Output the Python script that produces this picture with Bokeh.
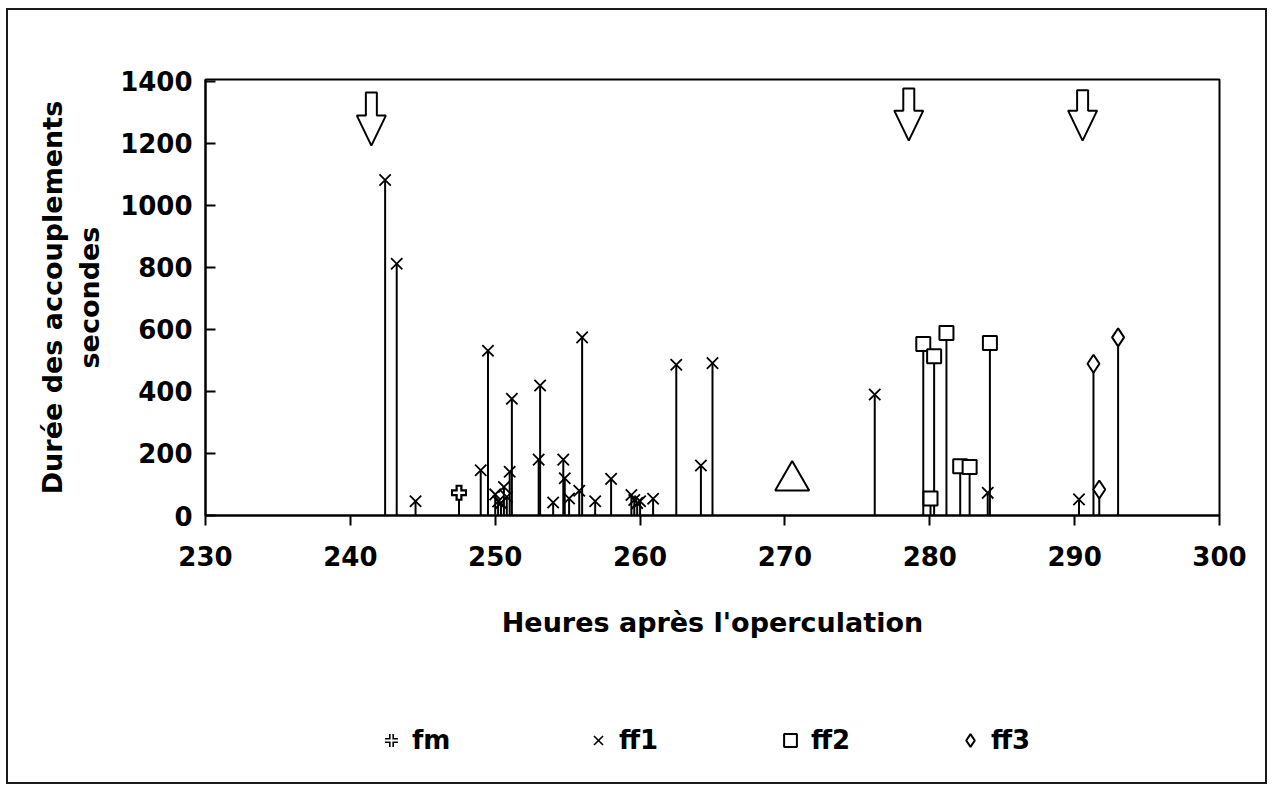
from bokeh.plotting import figure
from bokeh.models import Range1d, Legend, LegendItem, FixedTicker
from bokeh.layouts import column
from bokeh.embed import file_html
from bokeh.resources import INLINE

# ---- data (hours after operculation, duration in seconds) ----
fm_h = [247.5]
fm_v = [73]

ff1_h = [242.4, 243.2, 244.5, 249.0, 249.5, 250.0, 250.2, 250.4, 250.6, 250.8,
         251.0, 251.15, 253.0, 253.1, 254.0, 254.7, 254.8, 255.1, 255.8, 256.0,
         256.9, 258.0, 259.4, 259.6, 259.8, 260.0, 260.9, 262.5, 264.2, 265.0,
         276.2, 284.0, 290.3]
ff1_v = [1081, 811, 46, 146, 531, 68, 45, 40, 92, 60,
         141, 376, 180, 419, 42, 180, 120, 55, 80, 574,
         46, 118, 66, 50, 40, 46, 54, 486, 161, 491,
         390, 73, 52]

ff2_h = [279.55, 280.05, 280.3, 281.15, 282.1, 282.75, 284.15]
ff2_v = [553, 55, 513, 588, 159, 156, 556]

ff3_h = [291.3, 291.7, 293.0]
ff3_v = [489, 84, 574]

tri_h = [270.5]
tri_v = [112]

arrow_h = [241.45, 278.55, 290.55]
arrow_top = [1363, 1376, 1370]
arrow_tip = [1192, 1208, 1208]

x_ticks = [230, 240, 250, 260, 270, 280, 290, 300]
y_ticks = [0, 200, 400, 600, 800, 1000, 1200, 1400]

series_labels = ["fm", "ff1", "ff2", "ff3"]
x_title = "Heures après l'operculation"
y_title = "Durée des accouplements\nsecondes"

# ---- layout ----
W = 1257
H1, H2 = 640, 132
ML, MR, MT = 197, 46, 69
FH = 436
MB = H1 - MT - FH
X0, X1 = 230, 300
Y0, Y1 = 0, 1405
FONT = "DejaVu Sans"

p = figure(width=W, height=H1, x_range=Range1d(X0, X1), y_range=Range1d(Y0, Y1),
           output_backend="svg", toolbar_location=None,
           min_border_left=ML, min_border_right=MR, min_border_top=MT,
           min_border_bottom=MB)
p.xgrid.visible = False
p.ygrid.visible = False
p.outline_line_color = "black"
p.outline_line_width = 2
p.background_fill_color = "white"
p.border_fill_color = "white"

xa = p.xaxis[0]
xa.ticker = FixedTicker(ticks=x_ticks)
xa.axis_line_width = 2
xa.major_tick_line_width = 2
xa.major_tick_in = 0
xa.major_tick_out = 10
xa.minor_tick_line_color = None
xa.major_label_text_font = FONT
xa.major_label_text_font_style = "bold"
xa.major_label_text_font_size = "26px"
xa.major_label_text_color = "black"
xa.major_label_standoff = 20
xa.axis_label = x_title
xa.axis_label_text_font = FONT
xa.axis_label_text_font_style = "bold"
xa.axis_label_text_font_size = "27px"
xa.axis_label_text_color = "black"
xa.axis_label_standoff = 38

ya = p.yaxis[0]
ya.ticker = FixedTicker(ticks=y_ticks)
ya.axis_line_width = 2
ya.major_tick_line_width = 2
ya.major_tick_in = 10
ya.major_tick_out = 0
ya.minor_tick_line_color = None
ya.major_label_text_font = FONT
ya.major_label_text_font_style = "bold"
ya.major_label_text_font_size = "26px"
ya.major_label_text_color = "black"
ya.major_label_standoff = 13
ya.axis_label = y_title
ya.axis_label_text_font = FONT
ya.axis_label_text_font_style = "bold"
ya.axis_label_text_font_size = "27px"
ya.axis_label_text_color = "black"
ya.axis_label_standoff = 12

# ---- stems ----
for hs, vs in ((fm_h, fm_v), (ff1_h, ff1_v), (ff2_h, ff2_v), (ff3_h, ff3_v)):
    p.segment(x0=hs, y0=[0] * len(hs), x1=hs, y1=vs, line_color="black", line_width=2)

# ---- arrows (hollow block arrows) ----
fw = W - ML - MR
px_x = (X1 - X0) / fw
px_y = (Y1 - Y0) / FH
sw, hw, hl = 5.5, 14.5, 30
axs, ays = [], []
for ah, at, ap in zip(arrow_h, arrow_top, arrow_tip):
    hs_ = ap + hl * px_y
    axs.append([ah - sw * px_x, ah + sw * px_x, ah + sw * px_x, ah + hw * px_x, ah,
                ah - hw * px_x, ah - sw * px_x])
    ays.append([at, at, hs_, hs_, ap, hs_, hs_])
p.patches(axs, ays, fill_color="white", line_color="black", line_width=2)

# ---- triangle marker ----
p.scatter(tri_h, tri_v, marker="triangle", size=34, fill_color="white",
          line_color="black", line_width=2)

# ---- series markers ----
p.scatter(fm_h, fm_v, marker="cross", size=16, line_color="black", line_width=7)
p.scatter(fm_h, fm_v, marker="cross", size=12, line_color="white", line_width=2.5)
p.scatter(ff1_h, ff1_v, marker="x", size=16, line_color="black", line_width=1.8)
p.scatter(ff2_h, ff2_v, marker="square", size=14, fill_color="white",
          line_color="black", line_width=2)
p.scatter(ff3_h, ff3_v, marker="diamond", size=18, fill_color="white",
          line_color="black", line_width=2)

# ---- legend strip (separate figure below; its data lie outside its view) ----
q = figure(width=W, height=H2, x_range=Range1d(X0, X1), y_range=Range1d(-3000, -2000),
           output_backend="svg", toolbar_location=None,
           min_border_left=ML, min_border_right=MR, min_border_top=0,
           min_border_bottom=0)
q.axis.visible = False
q.xgrid.visible = False
q.ygrid.visible = False
q.outline_line_color = None
q.border_fill_color = "white"
q.background_fill_color = "white"

l_fm1 = q.scatter(fm_h, fm_v, marker="cross", line_color="black", line_width=5)
l_fm2 = q.scatter(fm_h, fm_v, marker="cross", line_color="white", line_width=1.8)
l_ff1 = q.scatter(ff1_h, ff1_v, marker="x", line_color="black", line_width=1.6)
l_ff2 = q.scatter(ff2_h, ff2_v, marker="square", fill_color="white",
                  line_color="black", line_width=2)
l_ff3 = q.scatter(ff3_h, ff3_v, marker="diamond", fill_color="white",
                  line_color="black", line_width=2)
leg_renderers = [[l_fm1, l_fm2], [l_ff1], [l_ff2], [l_ff3]]
leg_x = [170, 377, 569, 749]   # legend left edges relative to frame (px)
for lab, rs, lx in zip(series_labels, leg_renderers, leg_x):
    lg = Legend(items=[LegendItem(label=lab, renderers=rs)], location=(lx, 26))
    lg.label_text_font = FONT
    lg.label_text_font_style = "bold"
    lg.label_text_font_size = "26px"
    lg.label_text_color = "black"
    lg.glyph_width = 32
    lg.glyph_height = 32
    lg.label_standoff = 5
    lg.margin = 0
    lg.padding = 0
    lg.border_line_color = None
    lg.background_fill_alpha = 0
    q.add_layout(lg, "center")

layout = column(p, q, spacing=0)
layout.styles = {"border": "2px solid #1a1a1a", "margin-left": "6px",
                 "margin-top": "8px", "background": "white"}

open("out.html", "w").write(file_html(layout, INLINE))
